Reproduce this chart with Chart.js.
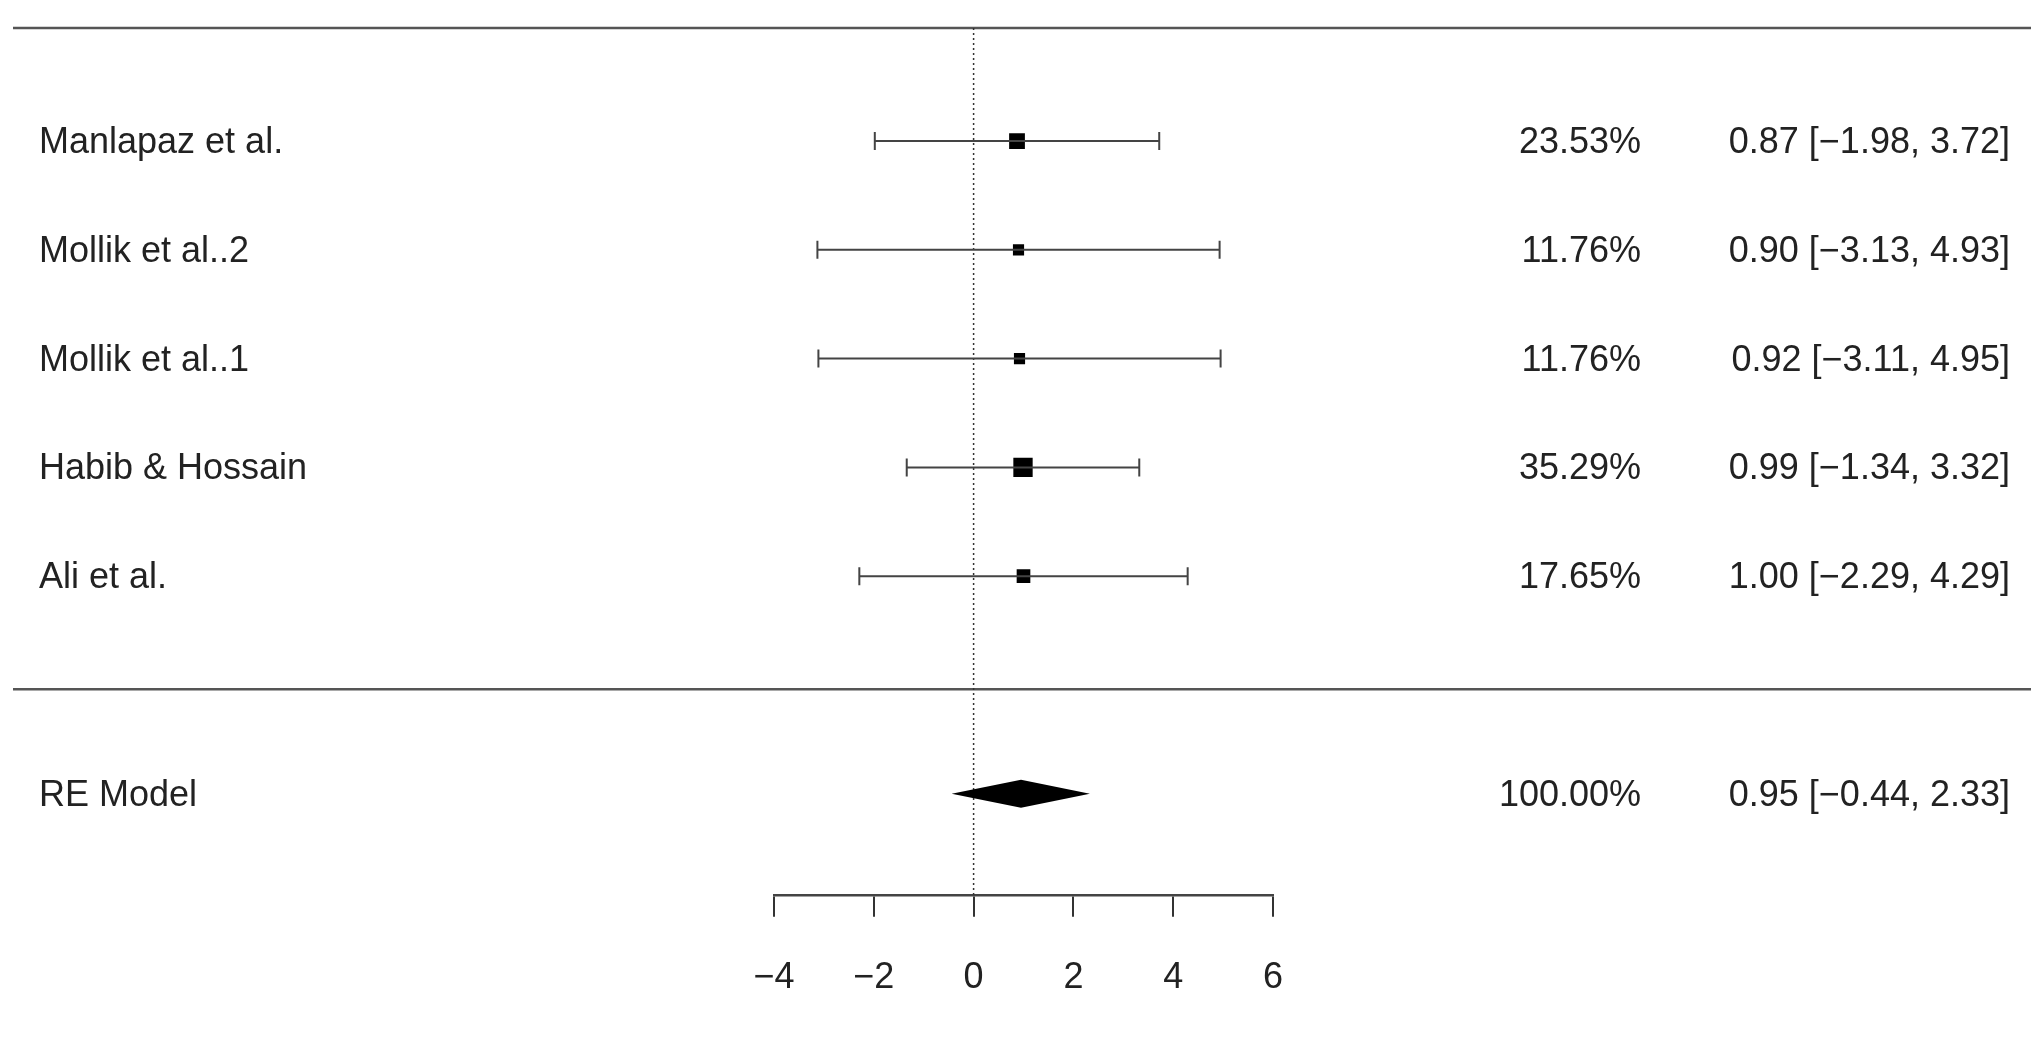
<!DOCTYPE html>
<html><head><meta charset="utf-8">
<script src="https://cdn.jsdelivr.net/npm/chart.js@4"></script>
<style>html,body{margin:0;padding:0;background:#fff}#w{width:2044px;height:1040px}</style>
</head><body><div id="w"><canvas id="c"></canvas></div>
<script>
const studies = ["Manlapaz et al.", "Mollik et al..2", "Mollik et al..1", "Habib & Hossain", "Ali et al."];
const estimates = [0.87, 0.90, 0.92, 0.99, 1.00];
const lower = [-1.98, -3.13, -3.11, -1.34, -2.29];
const upper = [3.72, 4.93, 4.95, 3.32, 4.29];
const weights = [23.53, 11.76, 11.76, 35.29, 17.65];
const model = {label: "RE Model", est: 0.95, lo: -0.44, hi: 2.33, weight: 100.00};
const xTicks = [-4, -2, 0, 2, 4, 6];

const FONT = '36px "Liberation Sans", Arial, sans-serif';
const fmt = v => (v < 0 ? "\u2212" : "") + Math.abs(v).toFixed(2);

const forest = {
  id: 'forest',
  afterDatasetsDraw(chart) {
    const ctx = chart.ctx, xs = chart.scales.x, ys = chart.scales.y;
    ctx.save();
    ctx.strokeStyle = '#555'; ctx.lineWidth = 2.5;
    [-1.04, 5.04].forEach(v => {
      const y = ys.getPixelForValue(v);
      ctx.beginPath(); ctx.moveTo(13, y); ctx.lineTo(2031, y); ctx.stroke();
    });
    ctx.setLineDash([2, 3]); ctx.lineWidth = 1.5; ctx.strokeStyle = '#333';
    ctx.beginPath(); ctx.moveTo(xs.getPixelForValue(0), ys.getPixelForValue(-1.04));
    ctx.lineTo(xs.getPixelForValue(0), ys.getPixelForValue(6.93)); ctx.stroke();
    ctx.setLineDash([]);
    ctx.strokeStyle = '#444'; ctx.lineWidth = 2;
    studies.forEach((s, i) => {
      const y = ys.getPixelForValue(i), a = xs.getPixelForValue(lower[i]), b = xs.getPixelForValue(upper[i]);
      ctx.beginPath(); ctx.moveTo(a, y); ctx.lineTo(b, y);
      ctx.moveTo(a, y - 9); ctx.lineTo(a, y + 9); ctx.moveTo(b, y - 9); ctx.lineTo(b, y + 9); ctx.stroke();
    });
    const yd = ys.getPixelForValue(6);
    ctx.fillStyle = '#000';
    ctx.beginPath();
    ctx.moveTo(xs.getPixelForValue(model.lo), yd);
    ctx.lineTo(xs.getPixelForValue(model.est), yd - 14);
    ctx.lineTo(xs.getPixelForValue(model.hi), yd);
    ctx.lineTo(xs.getPixelForValue(model.est), yd + 14);
    ctx.closePath(); ctx.fill();
    ctx.font = FONT; ctx.fillStyle = '#222'; ctx.textBaseline = 'middle';
    const rows = studies.map((s, i) => [s, i, weights[i], estimates[i], lower[i], upper[i]]);
    rows.push([model.label, 6, model.weight, model.est, model.lo, model.hi]);
    rows.forEach(r => {
      const y = ys.getPixelForValue(r[1]) + 2;
      ctx.textAlign = 'left'; ctx.fillText(r[0], 39, y);
      ctx.textAlign = 'right';
      ctx.fillText(r[2].toFixed(2) + '%', 1641, y);
      ctx.fillText(r[3].toFixed(2) + ' [' + fmt(r[4]) + ', ' + fmt(r[5]) + ']', 2010, y);
    });
    ctx.restore();
  }
};

new Chart(document.getElementById('c'), {
  type: 'scatter',
  data: { datasets: [{
    data: studies.map((s, i) => ({x: estimates[i], y: i})),
    pointStyle: 'rect',
    pointRadius: weights.map(w => 2.3 * Math.sqrt(w)),
    backgroundColor: '#000', borderColor: '#000', borderWidth: 0
  }]},
  options: {
    responsive: true, maintainAspectRatio: false, animation: false,
    layout: { padding: { left: 774, right: 771, top: 28, bottom: 0 } },
    plugins: { legend: { display: false }, tooltip: { enabled: false } },
    scales: {
      x: {
        type: 'linear', min: -4, max: 6,
        afterBuildTicks: ax => { ax.ticks = xTicks.map(v => ({value: v})); },
        grid: { drawOnChartArea: false, drawTicks: true, tickLength: 22, color: '#333', lineWidth: 2 },
        border: { display: true, color: '#444', width: 2.5 },
        ticks: { font: { family: '"Liberation Sans", Arial, sans-serif', size: 36 }, color: '#222', padding: 40,
          callback: v => (v < 0 ? '\u2212' + Math.abs(v) : '' + v) }
      },
      y: { type: 'linear', min: -1.04, max: 6.93, reverse: true, display: false }
    }
  },
  plugins: [forest]
});
</script></body></html>
